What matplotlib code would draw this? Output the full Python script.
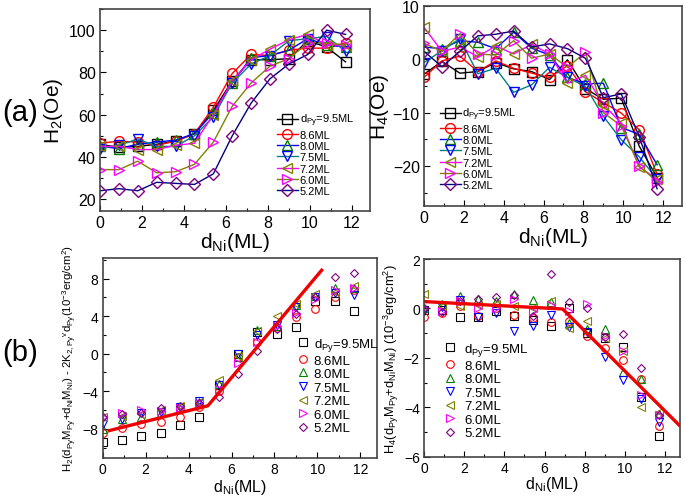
"""
Four-panel anisotropy figure: H2 and H4 versus Ni thickness (a),
and the derived interface terms with linear fits (b).
"""

import matplotlib

matplotlib.use("Agg")
import matplotlib.pyplot as plt
from matplotlib.ticker import MultipleLocator

plt.rcParams["font.family"] = ["Liberation Sans", "DejaVu Sans"]
plt.rcParams["mathtext.fontset"] = "custom"
plt.rcParams["mathtext.rm"] = "Liberation Sans"
plt.rcParams["mathtext.it"] = "Liberation Sans:italic"

# Ni thickness (ML)
d_ni = [0, 0.9, 1.8, 2.7, 3.6, 4.5, 5.4, 6.3, 7.2, 8.1, 9.0, 9.9, 10.8, 11.7]

labels = [r"d$_{\mathrm{Py}}$=9.5ML", "8.6ML", "8.0ML", "7.5ML", "7.2ML", "6.0ML", "5.2ML"]

# H2 (Oe), one row per Py thickness
h2 = [
    [46, 44.5, 45, 46, 47.5, 51, 62, 76, 86, 86, 86.5, 95, 92, 85],
    [46.5, 47.5, 47, 45.5, 47.5, 51, 63.5, 79.5, 88.5, 88, 90.5, 91.5, 91.5, 94],
    [45, 44, 46, 47, 48, 51, 61, 75, 87, 88, 90.5, 96, 93, 92],
    [44, 45.5, 48.5, 45, 45, 50, 59, 75, 84, 88, 95, 96, 97, 90],
    [45, 45, 43.5, 43.5, 45.5, 46.5, 60, 76, 86, 91, 95.5, 98, 93, 93],
    [34, 34, 38, 32.5, 33, 36.5, 47, 64, 75, 83, 86.5, 94, 94, 93],
    [24, 25, 24, 28, 27.5, 27, 32, 50, 65.5, 77, 84, 88.5, 100, 98],
]

# H4 (Oe)
h4 = [
    [-2.8, -0.4, -2.6, -2.3, -0.6, -1.8, -2.3, -3.8, -0.1, -5.5, -7.5, -7.3, -16.3, -22.2],
    [-3.4, -0.3, 0.6, -2.3, -0.3, -1.7, -2.6, -3.4, -1.2, -6.1, -8.1, -10.1, -13.2, -21.6],
    [2.3, 2.0, 3.5, 3.2, 2.0, 5.1, 2.1, 0.8, -3.4, -4.6, -4.5, -12.8, -14.1, -19.8],
    [-0.6, 1.6, 3.9, -2.7, -1.7, -6.2, -4.8, -1.5, -3.4, -5.1, -10.7, -15.1, -18.3, -22.5],
    [6.0, 1.5, 2.3, 0.5, 2.5, 1.0, 2.8, 1.0, -4.5, -3.0, -8.5, -12.0, -20.2, -22.5],
    [3.0, 1.5, 4.8, 1.0, 0.8, 3.5, 0.2, 1.0, -1.5, 1.3, -10.0, -12.5, -20.0, -23.0],
    [1.5, -1.4, 1.5, 4.4, 4.7, 5.3, 2.3, 2.9, 2.0, 0.2, -7.2, -6.5, -14.5, -24.3],
]

# H2(dPy MPy + dNi MNi) - 2K2v dPy (1e-3 erg/cm^2)
k2 = [
    [-9.4, -9.2, -8.8, -8.4, -7.6, -6.7, -3.3, 0.0, 2.3, 2.1, 2.9, 5.6, 5.6, 4.5],
    [-8.4, -7.9, -7.5, -7.3, -6.7, -5.7, -4.0, -0.3, 1.3, 2.7, 3.9, 4.8, 6.0, 6.8],
    [-8.0, -7.0, -6.7, -6.3, -5.8, -5.2, -3.2, -0.4, 2.5, 3.0, 5.2, 6.2, 7.0, 7.0],
    [-7.5, -7.0, -6.3, -6.2, -5.7, -5.0, -3.3, 0.0, 2.0, 3.1, 5.0, 6.0, 6.5, 6.3],
    [-6.7, -6.6, -6.4, -6.0, -5.6, -5.2, -2.8, -0.2, 2.4, 4.0, 5.3, 6.4, 6.6, 7.2],
    [-6.7, -6.3, -6.0, -6.1, -5.8, -5.3, -3.8, -1.0, 1.3, 3.0, 4.3, 5.8, 6.8, 7.0],
    [-6.8, -6.4, -6.3, -5.8, -5.6, -5.3, -4.6, -2.2, 0.3, 2.6, 4.2, 6.0, 8.2, 8.6],
]

# H4(dPy MPy + dNi MNi) (1e-3 erg/cm^2)
k4 = [
    [-0.05, -0.05, -0.35, -0.35, -0.1, -0.3, -0.45, -0.7, 0.0, -1.0, -1.2, -1.55, -3.6, -5.15],
    [-0.35, -0.2, 0.1, -0.3, 0.0, -0.25, -0.4, -0.55, -0.5, -1.1, -1.6, -2.1, -2.85, -4.75],
    [0.0, 0.2, 0.5, 0.4, 0.3, 0.6, 0.35, 0.25, -0.6, -0.85, -0.85, -2.55, -2.85, -4.25],
    [-0.1, 0.05, 0.35, -0.35, -0.2, -0.9, -0.7, -0.25, -0.75, -0.95, -1.95, -2.9, -3.65, -4.6],
    [0.6, 0.1, 0.1, 0.15, 0.2, 0.1, 0.0, 0.3, -0.8, -0.5, -1.2, -1.7, -4.0, -4.2],
    [0.0, -0.1, 0.3, 0.0, 0.0, 0.4, -0.1, 0.15, -0.1, 0.2, -1.1, -1.7, -3.5, -4.3],
    [0.0, -0.15, 0.3, 0.4, 0.45, 0.55, -0.3, 1.4, 0.25, 0.0, -1.15, -1.05, -2.4, -4.3],
]

# piecewise linear fits (red lines)
fit_k2_x = [0.3, 4.9, 10.2]
fit_k2_y = [-8.2, -5.55, 8.9]
fit_k4_x = [0.0, 6.9, 12.7]
fit_k4_y = [0.28, -0.02, -4.72]

markers = ["s", "o", "^", "v", "<", ">", "D"]
marker_colors = ["black", "red", "green", "blue", "#808000", "magenta", "#800080"]
line_colors = ["black", "red", "blue", "#008080", "magenta", "#808000", "#000080"]


def style_axes(ax, xmax, ymin, ymax, ymajor, yminor, tick_size):
    ax.set_xlim(0, xmax)
    ax.set_ylim(ymin, ymax)
    ax.xaxis.set_major_locator(MultipleLocator(2))
    ax.xaxis.set_minor_locator(MultipleLocator(1))
    ax.yaxis.set_major_locator(MultipleLocator(ymajor))
    ax.yaxis.set_minor_locator(MultipleLocator(yminor))
    ax.tick_params(which="both", direction="in", top=False, right=False,
                   labelsize=tick_size, pad=3)
    ax.tick_params(which="major", length=4, width=0.8)
    ax.tick_params(which="minor", length=2.5, width=0.8)
    for spine in ax.spines.values():
        spine.set_color("#444444")
        spine.set_linewidth(1.2)


fig = plt.figure(figsize=(6.85, 5.02), dpi=100)

ax_tl = fig.add_axes([0.146, 0.578, 0.394, 0.402])
ax_tr = fig.add_axes([0.619, 0.588, 0.377, 0.398])
ax_bl = fig.add_axes([0.150, 0.086, 0.401, 0.398])
ax_br = fig.add_axes([0.619, 0.088, 0.374, 0.394])

# (a) H2 and H4 with connecting lines
for ax, data in [(ax_tl, h2), (ax_tr, h4)]:
    for i, row in enumerate(data):
        ms = 6 if markers[i] == "D" else 7
        ax.plot(d_ni, row, color=line_colors[i], lw=1.0, marker=markers[i],
                ms=ms, mfc="none", mec=marker_colors[i], mew=1.0,
                label=labels[i])

style_axes(ax_tl, 12.86, 14.5, 110, 20, 10, 11.5)
ax_tl.set_xlabel(r"d$_{\mathrm{Ni}}$(ML)", fontsize=15, labelpad=0)
ax_tl.set_ylabel(r"H$_2$(Oe)", fontsize=15, labelpad=3)
ax_tl.legend(loc="upper left", bbox_to_anchor=(0.655, 0.49), frameon=False,
             fontsize=8, handlelength=1.9, handletextpad=0.15,
             labelspacing=0.12, borderpad=0, borderaxespad=0)

style_axes(ax_tr, 12.96, -27.5, 10, 10, 5, 11.5)
ax_tr.set_xlabel(r"d$_{\mathrm{Ni}}$(ML)", fontsize=15, labelpad=0)
ax_tr.set_ylabel(r"H$_4$(Oe)", fontsize=15, labelpad=1)
ax_tr.legend(loc="upper left", bbox_to_anchor=(0.06, 0.50), frameon=False,
             fontsize=8, handlelength=1.9, handletextpad=0.15,
             labelspacing=0.12, borderpad=0, borderaxespad=0)

# (b) derived quantities, markers only, with fits
for ax, data in [(ax_bl, k2), (ax_br, k4)]:
    for i, row in enumerate(data):
        ms = 4.5 if markers[i] == "D" else 5.5
        ax.plot(d_ni, row, ls="none", marker=markers[i], ms=ms, mfc="none",
                mec=marker_colors[i], mew=0.8, label=labels[i])

ax_bl.plot(fit_k2_x, fit_k2_y, color="#ee0000", lw=2.4)
ax_br.plot(fit_k4_x, fit_k4_y, color="#ee0000", lw=2.4)

style_axes(ax_bl, 12.8, -11.1, 10.2, 4, 2, 10)
ax_bl.set_xlabel(r"d$_{\mathrm{Ni}}$(ML)", fontsize=11.5, labelpad=1)
ax_bl.set_ylabel(r"H$_2$(d$_{\mathrm{Py}}$M$_{\mathrm{Py}}$+d$_{\mathrm{Ni}}$M$_{\mathrm{Ni}}$)"
                 r" - 2K$_{\mathrm{2,Py}}$$^{\mathrm{v}}$d$_{\mathrm{Py}}$"
                 r"(10$^{-3}$erg/cm$^2$)", fontsize=8.2, labelpad=3)
ax_bl.legend(loc="upper left", bbox_to_anchor=(0.705, 0.61), frameon=False,
             fontsize=9.5, handlelength=1.0, handletextpad=0.3,
             labelspacing=0.1, borderpad=0, borderaxespad=0)

style_axes(ax_br, 12.75, -6, 2, 2, 1, 10)
ax_br.set_xlabel(r"d$_{\mathrm{Ni}}$(ML)", fontsize=11.5, labelpad=-1)
ax_br.set_ylabel(r"H$_4$(d$_{\mathrm{Py}}$M$_{\mathrm{Py}}$+d$_{\mathrm{Ni}}$M$_{\mathrm{Ni}}$)"
                 r" (10$^{-3}$erg/cm$^2$)", fontsize=9.3, labelpad=2)
ax_br.legend(loc="upper left", bbox_to_anchor=(0.074, 0.585), frameon=False,
             fontsize=9.5, handlelength=1.0, handletextpad=0.6,
             labelspacing=0.1, borderpad=0, borderaxespad=0)

fig.text(0.03, 0.775, "(a)", fontsize=21, ha="center", va="center")
fig.text(0.03, 0.297, "(b)", fontsize=21, ha="center", va="center")

fig.savefig("out.png", dpi=100)
